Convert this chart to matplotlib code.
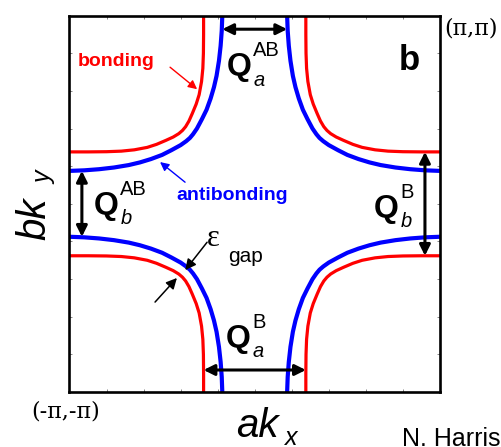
import numpy as np
import matplotlib
matplotlib.use('Agg')
import matplotlib.pyplot as plt

# Fermi surface pockets around the top-left corner, in units of pi
anti_kx = [-0.175, -0.178, -0.184, -0.193, -0.206, -0.220, -0.238, -0.260, -0.285,
           -0.312, -0.333, -0.350, -0.370, -0.400, -0.450, -0.500, -0.560, -0.620,
           -0.680, -0.760, -0.840, -0.920, -1.000]
anti_ky = [1.000, 0.920, 0.840, 0.760, 0.680, 0.620, 0.560, 0.500, 0.450,
           0.400, 0.370, 0.350, 0.333, 0.312, 0.285, 0.260, 0.238, 0.220,
           0.206, 0.193, 0.184, 0.178, 0.175]
bond_kx = [-0.276, -0.276, -0.277, -0.280, -0.287, -0.300, -0.316, -0.337, -0.355,
           -0.373, -0.390, -0.410, -0.440, -0.480, -0.530, -0.580, -0.650, -0.720,
           -0.800, -0.900, -1.000]
bond_ky = [1.000, 0.900, 0.800, 0.720, 0.650, 0.580, 0.530, 0.480, 0.440,
           0.410, 0.390, 0.373, 0.355, 0.337, 0.316, 0.300, 0.287, 0.280,
           0.277, 0.276, 0.276]

# mirror signs for the four corners
quadrants = [(1, 1), (-1, 1), (1, -1), (-1, -1)]

RED = '#ff0000'
BLUE = '#0000ff'
SANS = 'Liberation Sans'
SERIF = 'Liberation Serif'

fig = plt.figure(figsize=(5.02, 4.47), dpi=100)
ax = fig.add_axes([0.1384, 0.123, 0.738, 0.842])

for sx, sy in quadrants:
    ax.plot(sx * np.array(bond_kx), sy * np.array(bond_ky), color=RED, lw=2.3,
            solid_capstyle='butt', solid_joinstyle='round')
    ax.plot(sx * np.array(anti_kx), sy * np.array(anti_ky), color=BLUE, lw=3.0,
            solid_capstyle='butt', solid_joinstyle='round')

ax.set_xlim(-1, 1)
ax.set_ylim(-1, 1)
ticks = np.linspace(-1, 1, 11)
ax.set_xticks(ticks)
ax.set_yticks(ticks)
ax.tick_params(direction='in', length=2, width=0.6, color='0.45',
               top=True, right=True, labelbottom=False, labelleft=False)
for s in ax.spines.values():
    s.set_linewidth(1.9)

# double headed arrows (Q vectors)
dbl = dict(arrowstyle='<|-|>', color='black', lw=2.2, mutation_scale=16,
           shrinkA=0, shrinkB=0)
ax.annotate('', xy=(-anti_kx[0], 0.928), xytext=(anti_kx[0], 0.928), arrowprops=dbl)
ax.annotate('', xy=(-0.933, anti_ky[-1]), xytext=(-0.933, -anti_ky[-1]), arrowprops=dbl)
ax.annotate('', xy=(0.919, bond_ky[-1]), xytext=(0.919, -bond_ky[-1]), arrowprops=dbl)
ax.annotate('', xy=(bond_kx[0], -0.883), xytext=(-bond_kx[0], -0.883), arrowprops=dbl)


def qlabel(x, y, sup, sub):
    ax.text(x, y, 'Q', fontsize=23, fontweight='bold', family=SANS,
            ha='left', va='baseline')
    ax.annotate(sup, xy=(x, y), xytext=(19, 13.5), textcoords='offset points',
                fontsize=14.5, family=SANS, ha='left', va='baseline')
    ax.annotate(sub, xy=(x, y), xytext=(19, -7.5), textcoords='offset points',
                fontsize=14.5, family=SANS, style='italic', ha='left', va='baseline')


qlabel(-0.150, 0.684, 'AB', 'a')
qlabel(-0.868, -0.054, 'AB', 'b')
qlabel(0.645, -0.070, 'B', 'b')
qlabel(-0.156, -0.761, 'B', 'a')

# band labels and their pointers
ax.text(-0.746, 0.758, 'bonding', color=RED, fontsize=14, fontweight='bold',
        family=SANS, ha='center', va='center')
ax.annotate('', xy=(-0.311, 0.609), xytext=(-0.457, 0.726),
            arrowprops=dict(arrowstyle='-|>', color=RED, lw=1.0, mutation_scale=13,
                            shrinkA=0, shrinkB=0))
ax.text(-0.122, 0.046, 'antibonding', color=BLUE, fontsize=14, fontweight='bold',
        family=SANS, ha='center', va='center')
ax.annotate('', xy=(-0.511, 0.222), xytext=(-0.376, 0.115),
            arrowprops=dict(arrowstyle='-|>', color=BLUE, lw=1.0, mutation_scale=13,
                            shrinkA=0, shrinkB=0))

# gap pointers
gap = dict(arrowstyle='-|>', color='black', lw=1.1, mutation_scale=16,
           shrinkA=0, shrinkB=0)
ax.annotate('', xy=(-0.375, -0.352), xytext=(-0.257, -0.204), arrowprops=gap)
ax.annotate('', xy=(-0.420, -0.394), xytext=(-0.538, -0.522), arrowprops=gap)
ax.text(-0.258, -0.225, '\u03b5', fontsize=22, family=SERIF, ha='left', va='baseline')
ax.text(-0.144, -0.31, 'gap', fontsize=15, family=SANS, ha='left', va='baseline')

ax.text(0.834, 0.762, 'b', fontsize=25, fontweight='bold', family=SANS,
        ha='center', va='center')

# corner labels
ax.text(1.025, 0.934, '(\u03c0,\u03c0)', fontsize=16, family='DejaVu Serif',
        ha='left', va='center', clip_on=False)
ax.text(-1.021, -1.106, '(-\u03c0,-\u03c0)', fontsize=16, family='DejaVu Serif',
        ha='center', va='center', clip_on=False)

# axis labels
ax.text(0.013, -1.239, 'ak', fontsize=29, style='italic', family=SANS,
        ha='center', va='baseline', clip_on=False)
ax.text(0.163, -1.282, 'x', fontsize=18, style='italic', family=SANS,
        ha='left', va='baseline', clip_on=False)
ax.text(-1.132, -0.08, 'bk', fontsize=29, style='italic', family=SANS, rotation=90,
        rotation_mode='anchor', ha='center', va='baseline', clip_on=False)
ax.text(-1.100, 0.105, 'y', fontsize=18, style='italic', family=SANS, rotation=90,
        rotation_mode='anchor', ha='left', va='baseline', clip_on=False)

fig.text(402 / 502, 1 - 446 / 447, 'N. Harris', fontsize=18, family=SANS,
         ha='left', va='baseline')

fig.savefig('out.png', dpi=100)
